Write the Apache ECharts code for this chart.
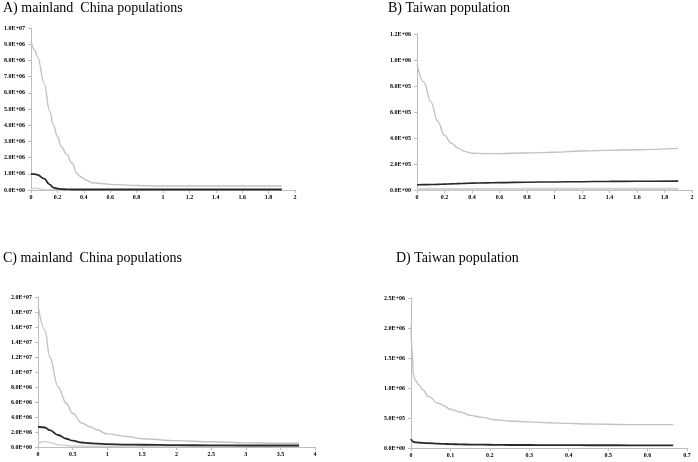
<!DOCTYPE html>
<html>
<head>
<meta charset="utf-8">
<script src="https://cdn.jsdelivr.net/npm/echarts@6/dist/echarts.min.js"></script>
<style>html,body{margin:0;padding:0;background:#fff}#c{width:698px;height:462px}</style>
</head>
<body>
<div id="c"></div>
<script>
// Panel titles
const titles = ['A) mainland  China populations', 'B) Taiwan population', 'C) mainland  China populations', 'D) Taiwan population'];

// Panel A (mainland China)
const aX      = [0, 0.03, 0.05, 0.1, 0.14, 0.17, 0.2, 0.23, 0.27, 0.31, 0.35, 0.38, 0.42, 0.46, 0.6, 0.8, 1.0, 1.2, 1.4, 1.6, 1.9];
const aUpper  = [9.2e6, 8.6e6, 8.2e6, 6.6e6, 4.9e6, 4.0e6, 3.3e6, 2.67e6, 2.2e6, 1.67e6, 1.0e6, 0.8e6, 0.6e6, 0.45e6, 0.35e6, 0.28e6, 0.25e6, 0.25e6, 0.25e6, 0.25e6, 0.25e6];
const aMedian = [1.0e6, 0.98e6, 0.93e6, 0.7e6, 0.35e6, 0.15e6, 0.08e6, 0.05e6, 0.04e6, 0.03e6, 0.03e6, 0.03e6, 0.03e6, 0.03e6, 0.03e6, 0.03e6, 0.03e6, 0.03e6, 0.03e6, 0.03e6, 0.03e6];
const aLower  = [0.05e6, 0.12e6, 0.1e6, 0.03e6, 0.01e6, 0.01e6, 0.01e6, 0.01e6, 0.01e6, 0.01e6, 0.01e6, 0.01e6, 0.01e6, 0.01e6, 0.01e6, 0.01e6, 0.01e6, 0.01e6, 0.01e6, 0.01e6, 0.01e6];

// Panel B (Taiwan)
const bX      = [0, 0.05, 0.1, 0.15, 0.2, 0.25, 0.3, 0.35, 0.4, 0.5, 0.6, 0.8, 1.0, 1.2, 1.4, 1.6, 1.9];
const bUpper  = [0.97e6, 0.83e6, 0.68e6, 0.53e6, 0.42e6, 0.36e6, 0.32e6, 0.295e6, 0.283e6, 0.28e6, 0.28e6, 0.285e6, 0.29e6, 0.30e6, 0.305e6, 0.31e6, 0.32e6];
const bMedian = [0.040e6, 0.041e6, 0.042e6, 0.043e6, 0.045e6, 0.047e6, 0.049e6, 0.051e6, 0.053e6, 0.055e6, 0.057e6, 0.060e6, 0.062e6, 0.064e6, 0.066e6, 0.067e6, 0.068e6];
const bLower  = [0.006e6, 0.006e6, 0.006e6, 0.006e6, 0.006e6, 0.006e6, 0.006e6, 0.006e6, 0.006e6, 0.006e6, 0.006e6, 0.007e6, 0.007e6, 0.007e6, 0.008e6, 0.008e6, 0.008e6];

// Panel C (mainland China)
const cX      = [0, 0.1, 0.17, 0.29, 0.41, 0.5, 0.63, 0.75, 0.85, 1.0, 1.28, 1.5, 2.0, 2.5, 3.0, 3.5, 3.77];
const cUpper  = [18.9e6, 15.6e6, 12.0e6, 8.0e6, 5.8e6, 4.5e6, 3.2e6, 2.7e6, 2.3e6, 1.75e6, 1.4e6, 1.1e6, 0.85e6, 0.7e6, 0.55e6, 0.5e6, 0.5e6];
const cMedian = [2.7e6, 2.6e6, 2.25e6, 1.6e6, 1.1e6, 0.85e6, 0.6e6, 0.5e6, 0.45e6, 0.38e6, 0.33e6, 0.3e6, 0.25e6, 0.22e6, 0.2e6, 0.2e6, 0.2e6];
const cLower  = [0.5e6, 0.75e6, 0.6e6, 0.3e6, 0.2e6, 0.15e6, 0.12e6, 0.1e6, 0.1e6, 0.1e6, 0.1e6, 0.1e6, 0.1e6, 0.1e6, 0.1e6, 0.1e6, 0.1e6];

// Panel D (Taiwan)
const dX      = [0, 0.003, 0.006, 0.012, 0.019, 0.03, 0.044, 0.069, 0.085, 0.099, 0.125, 0.154, 0.18, 0.213, 0.25, 0.3, 0.35, 0.4, 0.45, 0.5, 0.55, 0.6, 0.665];
const dUpper  = [2.02e6, 1.6e6, 1.22e6, 1.12e6, 1.06e6, 0.97e6, 0.86e6, 0.745e6, 0.7e6, 0.645e6, 0.6e6, 0.54e6, 0.51e6, 0.47e6, 0.45e6, 0.435e6, 0.42e6, 0.41e6, 0.40e6, 0.395e6, 0.39e6, 0.39e6, 0.39e6];
const dMedian = [0.15e6, 0.12e6, 0.1e6, 0.095e6, 0.09e6, 0.085e6, 0.08e6, 0.072e6, 0.068e6, 0.065e6, 0.06e6, 0.057e6, 0.055e6, 0.053e6, 0.05e6, 0.05e6, 0.048e6, 0.047e6, 0.046e6, 0.046e6, 0.045e6, 0.045e6, 0.045e6];

// Axis ranges
const xMax = [2, 2, 4, 0.7];
const xStep = [0.2, 0.2, 0.5, 0.1];
const yMax = [1e7, 1.2e6, 2e7, 2.5e6];
const yStep = [1e6, 2e5, 2e6, 5e5];

const pair = (xs, ys) => xs.map((x, i) => [x, ys[i]]);

function sci(v) {
  if (v === 0) return '0.0E+00';
  let e = Math.floor(Math.log10(v) + 1e-9);
  let m = v / Math.pow(10, e);
  if (m >= 9.95) { m /= 10; e += 1; }
  return m.toFixed(1) + 'E+' + (e < 10 ? '0' : '') + e;
}

const grids = [
  {left: 31, right: 403, top: 28, bottom: 272},
  {left: 417, right: 6, top: 34, bottom: 272},
  {left: 38, right: 383, top: 297, bottom: 15},
  {left: 411, right: 11, top: 298, bottom: 14}
];

const lblFont = {fontFamily: 'Liberation Serif', fontWeight: 'bold', fontSize: 6, color: '#000'};
const axisLineStyle = {lineStyle: {color: '#bdbdbd', width: 1}};

const xAxes = grids.map((g, i) => ({
  type: 'value', gridIndex: i, min: 0, max: xMax[i], interval: xStep[i],
  axisLine: Object.assign({show: true}, axisLineStyle),
  axisTick: {show: true, length: 3, lineStyle: {color: '#bdbdbd'}},
  splitLine: {show: false},
  axisLabel: Object.assign({margin: 4}, lblFont)
}));
const yAxes = grids.map((g, i) => ({
  type: 'value', gridIndex: i, min: 0, max: yMax[i], interval: yStep[i],
  axisLine: Object.assign({show: true}, axisLineStyle),
  axisTick: {show: true, length: 3, lineStyle: {color: '#bdbdbd'}},
  splitLine: {show: false},
  axisLabel: Object.assign({margin: 6, formatter: sci}, lblFont)
}));

const UP = '#c2c2c2', MED = '#2a2a2a', LOW = '#d2d2d2';
function line(i, data, color, width, z) {
  return {type: 'line', xAxisIndex: i, yAxisIndex: i, data: data, showSymbol: false, symbol: 'none',
    smooth: 0.4, smoothMonotone: 'x', lineStyle: {color: color, width: width}, z: z, silent: true};
}

const series = [
  line(0, pair(aX, aUpper), UP, 1.4, 2),
  line(0, pair(aX, aLower), LOW, 1.5, 2),
  line(0, pair(aX, aMedian), MED, 1.8, 3),
  line(1, pair(bX, bUpper), UP, 1.4, 2),
  line(1, pair(bX, bLower), LOW, 2.5, 2),
  line(1, pair(bX, bMedian), MED, 1.6, 3),
  line(2, pair(cX, cUpper), UP, 1.4, 2),
  line(2, pair(cX, cLower), LOW, 1.5, 2),
  line(2, pair(cX, cMedian), MED, 1.8, 3),
  line(3, pair(dX, dUpper), UP, 1.4, 2),
  line(3, pair(dX, dMedian), MED, 1.8, 3)
];

const titlePos = [[3, 1], [388, 1], [3, 251], [396, 251]];
const title = titles.map((t, i) => ({
  text: t, left: titlePos[i][0], top: titlePos[i][1], padding: 0,
  textStyle: {fontFamily: 'Liberation Serif', fontSize: 14, fontWeight: 'normal', color: '#000'}
}));

const chart = echarts.init(document.getElementById('c'), null, {renderer: 'canvas'});
chart.setOption({
  animation: false, backgroundColor: '#fff',
  title: title, grid: grids, xAxis: xAxes, yAxis: yAxes, series: series
});
</script>
</body>
</html>
